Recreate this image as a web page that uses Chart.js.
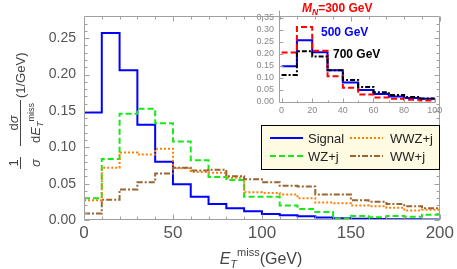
<!DOCTYPE html>
<html><head><meta charset="utf-8">
<script src="https://cdn.jsdelivr.net/npm/chart.js@4/dist/chart.umd.min.js"></script>
<style>
html,body{margin:0;padding:0;background:#fff;}
#wrap{position:relative;width:457px;height:269px;overflow:hidden;}
#main{position:absolute;left:0;top:0;}
#inset{position:absolute;left:230px;top:0;}
</style></head><body>
<div id="wrap">
<canvas id="main" width="457" height="269"></canvas>
<canvas id="inset" width="215" height="120"></canvas>
</div>
<script>
// ---------- data ----------
const binEdges = [0,10,20,30,40,50,60,70,80,90,100,110,120,130,140,150,160,170,180,190,200];
const signal = [0.148,0.257,0.206,0.131,0.080,0.049,0.032,0.022,0.016,0.012,0.0082,0.0065,0.005,0.0035,0.0025,0.0018,0.0015,0.0012,0.0010,0.0008];
const wzj    = [0.030,0.084,0.146,0.153,0.133,0.108,0.082,0.059,0.055,0.032,0.032,0.020,0.015,0.011,0.002,0.0055,0.0037,0.0055,0.0043,0.0073];
const wwzj   = [0.027,0.072,0.093,0.090,0.098,0.071,0.066,0.065,0.058,0.038,0.037,0.035,0.030,0.024,0.023,0.020,0.019,0.017,0.013,0.014];
const wwj    = [0.009,0.028,0.042,0.052,0.064,0.072,0.068,0.069,0.060,0.056,0.052,0.047,0.046,0.035,0.035,0.027,0.025,0.022,0.019,0.016];
const seriesNames = ['Signal','WZ+j','WWZ+j','WW+j'];

const insetEdges = [0,10,20,30,40,50,60,70,80,90,100];
const mn300 = [0.205,0.312,0.213,0.106,0.058,0.030,0.018,0.012,0.008,0.005];
const mn500 = [0.148,0.257,0.206,0.131,0.080,0.049,0.032,0.022,0.016,0.012];
const mn700 = [0.112,0.211,0.189,0.131,0.091,0.062,0.040,0.028,0.020,0.014];
const insetNames = ['300 GeV','500 GeV','700 GeV'];

const xTicks = [0,50,100,150,200];
const xTickLabels = ['0','50','100','150','200'];
const yTicks = [0,0.05,0.10,0.15,0.20,0.25];
const yTickLabels = ['0.00','0.05','0.10','0.15','0.20','0.25'];
const insetXTicks = [0,20,40,60,80,100];
const insetXTickLabels = ['0','20','40','60','80','100'];
const insetYTicks = [0,0.05,0.10,0.15,0.20,0.25,0.30,0.35];
const insetYTickLabels = ['0.00','0.05','0.10','0.15','0.20','0.25','0.30','0.35'];

// ---------- helpers ----------
function stepPoints(edges, vals){
  const pts = vals.map((v,i)=>({x:edges[i], y:v}));
  pts.push({x:edges[vals.length], y:vals[vals.length-1]});
  return pts;
}
const FONT = "'Liberation Sans', Arial, sans-serif";

const styles = {
  'Signal': {color:'#0000ff', dash:[], width:2},
  'WZ+j':   {color:'#18e818', dash:[6,3], width:2},
  'WWZ+j':  {color:'#ff8000', dash:[2,2], width:2},
  'WW+j':   {color:'#996633', dash:[6,2,2,2], width:2},
  '300 GeV':{color:'#ff0000', dash:[6,3], width:2},
  '500 GeV':{color:'#0000ff', dash:[], width:2},
  '700 GeV':{color:'#000000', dash:[5,2,2,2], width:2}
};
function ds(name, pts){
  const s = styles[name];
  return {label:name, data:pts, borderColor:s.color, borderWidth:s.width, borderDash:s.dash,
          stepped:'before', pointRadius:0, fill:false, tension:0, borderCapStyle:'butt'};
}

// frame + inward ticks
function frameTicks(chart, opt){
  const {ctx, chartArea:a, scales:{x,y}} = chart;
  ctx.save();
  ctx.strokeStyle = opt.color; ctx.lineWidth = 1;
  const L = Math.round(a.left)+0.5, R = Math.round(a.right)-0.5, T = Math.round(a.top)+0.5, B = Math.round(a.bottom)-0.5;
  ctx.beginPath();
  ctx.moveTo(L,T); ctx.lineTo(L,B); ctx.lineTo(R,B);
  if (opt.full){ ctx.lineTo(R,T); ctx.lineTo(L,T); }
  for (let v = opt.xMin; v <= opt.xMax + 1e-9; v += opt.xMinor){
    const isMaj = opt.xMajorList.some(m=>Math.abs(m-v)<1e-9);
    const len = isMaj ? opt.maj : opt.min;
    const px = Math.round(x.getPixelForValue(v))+0.5;
    ctx.moveTo(px,B); ctx.lineTo(px,B-len);
    if (opt.full){ ctx.moveTo(px,T); ctx.lineTo(px,T+len); }
  }
  for (let v = opt.yMin; v <= opt.yMax + 1e-9; v += opt.yMinor){
    const isMaj = opt.yMajorList.some(m=>Math.abs(m-v)<1e-9);
    const len = isMaj ? opt.maj : opt.min;
    const py = Math.round(y.getPixelForValue(v))+0.5;
    if (py < a.top) continue;
    ctx.moveTo(L,py); ctx.lineTo(L+len,py);
    if (opt.full){ ctx.moveTo(R,py); ctx.lineTo(R-len,py); }
  }
  ctx.stroke();
  ctx.restore();
}

// ---------- main chart ----------
const mainPlugin = {
  id:'mainDeco',
  afterDatasetsDraw(chart){
    const ctx = chart.ctx;
    frameTicks(chart, {color:'#a0a0a0', full:true, maj:5, min:3,
      xMin:0, xMax:200, xMinor:10, xMajorList:xTicks,
      yMin:0, yMax:0.27, yMinor:0.01, yMajorList:yTicks});

    // legend
    ctx.save();
    ctx.fillStyle = '#fffbe3';
    ctx.fillRect(261,125,179,45);
    ctx.strokeStyle = '#000'; ctx.lineWidth = 1;
    ctx.strokeRect(261.5,125.5,178,44);
    const pos = [[270,138],[270,156],[350,138],[350,156]];
    const order = ['Signal','WZ+j','WWZ+j','WW+j'];
    ctx.font = '13px ' + FONT; ctx.textBaseline = 'middle'; ctx.fillStyle = '#222';
    order.forEach((n,i)=>{
      const s = styles[n]; const [lx,ly] = pos[i];
      ctx.beginPath(); ctx.setLineDash(s.dash); ctx.strokeStyle = s.color; ctx.lineWidth = s.width;
      ctx.moveTo(lx, ly); ctx.lineTo(lx+33, ly); ctx.stroke();
      ctx.setLineDash([]);
      ctx.fillText(n, lx+ (i<2?38:40), ly+1);
    });
    ctx.restore();

    // x-axis title: E_T^miss(GeV)
    ctx.save();
    ctx.fillStyle = '#444'; ctx.textBaseline = 'alphabetic';
    const parts = [
      {t:'E', f:'italic 16px '+FONT, dy:0},
      {t:'T', f:'italic 11px '+FONT, dy:4},
      {t:'miss', f:'11px '+FONT, dy:-8},
      {t:'(GeV)', f:'16px '+FONT, dy:0}
    ];
    let w = 0; parts.forEach(p=>{ctx.font=p.f; p.w = ctx.measureText(p.t).width; w+=p.w;});
    let cx = 261 - w/2; const base = 264;
    parts.forEach(p=>{ctx.font=p.f; ctx.fillText(p.t, cx, base+p.dy); cx += p.w;});
    ctx.restore();

    // y-axis title (rotated)
    ctx.save();
    ctx.fillStyle = '#444'; ctx.strokeStyle = '#444'; ctx.lineWidth = 1;
    const barX = 20.5;
    ctx.translate(barX, 0); ctx.rotate(-Math.PI/2);
    ctx.textBaseline = 'alphabetic';
    function txtW(t,f){ctx.font=f; return ctx.measureText(t).width;}
    function drawSeq(seq, uStart, vBase){
      let u = uStart;
      seq.forEach(p=>{ctx.font=p.f; ctx.fillText(p.t, u, vBase+p.dy); u += ctx.measureText(p.t).width;});
    }
    function seqW(seq){ return seq.reduce((s,p)=>s+txtW(p.t,p.f),0); }
    const F = '13px '+FONT, FI = 'italic 13px '+FONT, FS = '9px '+FONT, FSI = 'italic 9px '+FONT;
    const numA = [{t:'1',f:F,dy:0}], denA = [{t:'σ',f:FI,dy:0}];
    const cA = -163, lenA = 12;
    ctx.beginPath(); ctx.moveTo(cA-lenA/2,0); ctx.lineTo(cA+lenA/2,0); ctx.stroke();
    drawSeq(numA, cA - seqW(numA)/2, -3);
    drawSeq(denA, cA - seqW(denA)/2, 19);
    const numB = [{t:'d',f:F,dy:0},{t:'σ',f:FI,dy:0}];
    const denB = [{t:'d',f:F,dy:0},{t:'E',f:FI,dy:0},{t:'T',f:FSI,dy:3},{t:'miss',f:FS,dy:-6}];
    const cB = -123, lenB = seqW(denB)+6;
    ctx.beginPath(); ctx.moveTo(cB-lenB/2,0); ctx.lineTo(cB+lenB/2,0); ctx.stroke();
    drawSeq(numB, cB - seqW(numB)/2, -3);
    drawSeq(denB, cB - seqW(denB)/2, 19);
    drawSeq([{t:'(1/GeV)',f:F,dy:0}], cB + lenB/2 + 2, 4.5);
    ctx.restore();
  }
};

new Chart(document.getElementById('main'), {
  type:'line',
  data:{datasets:[
    ds('WW+j', stepPoints(binEdges, wwj)),
    ds('WWZ+j', stepPoints(binEdges, wwzj)),
    ds('WZ+j', stepPoints(binEdges, wzj)),
    ds('Signal', stepPoints(binEdges, signal))
  ]},
  options:{
    responsive:false, animation:false, events:[],
    layout:{padding:{left:0,right:16,top:1,bottom:0}},
    plugins:{legend:{display:false}, tooltip:{enabled:false}},
    scales:{
      x:{type:'linear', min:0, max:200,
         afterFit(s){s.height=49;},
         afterBuildTicks(s){s.ticks = xTicks.map(v=>({value:v}));},
         grid:{display:false, drawTicks:false}, border:{display:false},
         ticks:{padding:3, color:'#555', font:{family:FONT, size:17}, maxRotation:0, autoSkip:false,
                callback:(v,i)=>xTickLabels[i]}},
      y:{type:'linear', min:0, max:0.28,
         afterFit(s){s.width=84;},
         afterBuildTicks(s){s.ticks = yTicks.map(v=>({value:v}));},
         grid:{display:false, drawTicks:false}, border:{display:false},
         ticks:{padding:8, color:'#555', font:{family:FONT, size:14}, autoSkip:false,
                callback:(v,i)=>yTickLabels[i]}}
    }
  },
  plugins:[mainPlugin]
});

// ---------- inset ----------
const insetPlugin = {
  id:'insetDeco',
  afterDatasetsDraw(chart){
    const ctx = chart.ctx;
    frameTicks(chart, {color:'#a0a0a0', full:false, maj:4, min:2,
      xMin:0, xMax:100, xMinor:10, xMajorList:insetXTicks,
      yMin:0, yMax:0.35, yMinor:0.05, yMajorList:insetYTicks});
    ctx.save();
    ctx.textBaseline = 'alphabetic';
    const ox = 230;
    ctx.fillStyle = '#ff0000';
    let x0 = 302 - ox;
    ctx.font = 'italic bold 12px '+FONT; ctx.fillText('M', x0, 12); x0 += ctx.measureText('M').width;
    ctx.font = 'italic bold 8.5px '+FONT; ctx.fillText('N', x0, 14.5); x0 += ctx.measureText('N').width;
    ctx.font = 'bold 12px '+FONT; ctx.fillText('=' + insetNames[0], x0, 12);
    ctx.fillStyle = '#0000ff'; ctx.font = 'bold 12px '+FONT; ctx.fillText(insetNames[1], 321 - ox, 36);
    ctx.fillStyle = '#000000'; ctx.fillText(insetNames[2], 333 - ox, 58);
    ctx.restore();
  }
};

new Chart(document.getElementById('inset'), {
  type:'line',
  data:{datasets:[
    ds('700 GeV', stepPoints(insetEdges, mn700)),
    ds('300 GeV', stepPoints(insetEdges, mn300)),
    ds('500 GeV', stepPoints(insetEdges, mn500))
  ]},
  options:{
    responsive:false, animation:false, events:[],
    layout:{padding:{left:0,right:9.5,top:0,bottom:0}},
    plugins:{legend:{display:false}, tooltip:{enabled:false}},
    scales:{
      x:{type:'linear', min:-1.7, max:100.5,
         afterFit(s){s.height=17.3;},
         afterBuildTicks(s){s.ticks = insetXTicks.map(v=>({value:v}));},
         grid:{display:false, drawTicks:false}, border:{display:false},
         ticks:{padding:2, color:'#888', font:{family:FONT, size:9}, maxRotation:0, autoSkip:false,
                callback:(v,i)=>insetXTickLabels[i]}},
      y:{type:'linear', min:-0.004, max:0.381,
         afterFit(s){s.width=49;},
         afterBuildTicks(s){s.ticks = insetYTicks.map(v=>({value:v}));},
         grid:{display:false, drawTicks:false}, border:{display:false},
         ticks:{padding:5, color:'#888', font:{family:FONT, size:9}, autoSkip:false,
                callback:(v,i)=>insetYTickLabels[i]}}
    }
  },
  plugins:[insetPlugin]
});
</script>
</body></html>
